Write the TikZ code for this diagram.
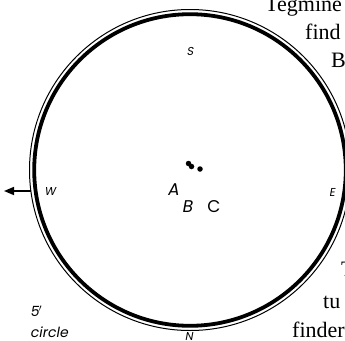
\documentclass[tikz,border=0pt]{standalone}
\usepackage{fontspec}
\setmainfont{Liberation Serif}
\newfontfamily\chartfont{Poppins}[ItalicFeatures={FakeSlant=0.18},ItalicFont={Poppins}]
\usetikzlibrary{arrows.meta}
\tikzset{
    dirlabel/.style={font=\chartfont\itshape\fontsize{11.5}{11.5}\selectfont, inner sep=0pt},
    starlabel/.style={font=\chartfont\itshape\fontsize{17}{17}\selectfont, inner sep=0pt},
    scalelabel/.style={font=\chartfont\itshape\fontsize{14}{21}\selectfont, inner sep=0pt, align=left, anchor=south west},
    pagetext/.style={font=\fontsize{22}{22}\selectfont, anchor=base west, inner sep=0pt},
    stardot/.style={circle, fill, inner sep=0pt, minimum size=5.5pt},
    ringthick/.style={line width=3.8pt},
    ringthin/.style={line width=1pt},
    chartarrow/.style={-{Stealth[length=10pt, width=8pt, inset=0pt]}, line width=1.5pt}
}

\begin{document}
\begin{tikzpicture}[x=1pt, y=-1pt]
    \useasboundingbox (0,0) rectangle (345,340);
    \clip (0,0) rectangle (345,340);
    \coordinate (centre) at (190,170);
    % field of view
    \draw[ringthin] (centre) circle[radius=160.5];
    \draw[ringthick] (centre) circle[radius=155.8];
    % directions
    \node[dirlabel] (south) at (190,51) {S};
    \node[dirlabel] (north) at (189,336) {N};
    \node[dirlabel] (east) at (332,192) {E};
    \node[dirlabel] (west) at (50,191) {W};
    \coordinate (westrim) at (31,191);
    \coordinate (westtip) at (4,191);
    \draw[chartarrow] (westrim) -- (westtip);
    % the stars
    \node[stardot] (starA) at (188.5,163.5) {};
    \node[stardot] (starB) at (191.5,166.5) {};
    \node[stardot] (starC) at (200,169) {};
    \node[starlabel] (labelA) at (173,190) {A};
    \node[starlabel] (labelB) at (187,207) {B};
    \node[starlabel, font=\chartfont\fontsize{17}{17}\selectfont] (labelC) at (214,207) {C};
    \node[scalelabel] (scale) at (30,338) {5$'$\\circle};
    % text of the page beside it
    \node[pagetext] (line1) at (265,11) {Tegmine};
    \node[pagetext] (line2) at (305,39) {find};
    \node[pagetext] (line3) at (331,67) {B};
    \node[pagetext] (line4) at (341,276) {T};
    \node[pagetext] (line5) at (323,308) {tu};
    \node[pagetext] (line6) at (292,337) {finder};
\end{tikzpicture}
\end{document}
